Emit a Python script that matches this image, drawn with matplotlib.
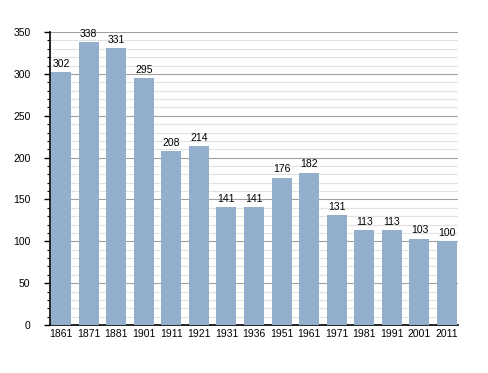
import matplotlib.pyplot as plt
import numpy as np

years = ["1861", "1871", "1881", "1901", "1911", "1921", "1931", "1936",
         "1951", "1961", "1971", "1981", "1991", "2001", "2011"]
population = [302, 338, 331, 295, 208, 214, 141, 141, 176, 182, 131, 113, 113, 103, 100]

plt.rcParams["font.family"] = ["Liberation Sans", "DejaVu Sans"]

fig = plt.figure(figsize=(4.88, 3.73), dpi=100)
ax = fig.add_axes([0.1025, 0.1287, 0.836, 0.7853])

x = np.arange(len(years))
ax.bar(x, population, width=0.73, color="#94afcc", zorder=3)

for xi, v in zip(x, population):
    ax.text(xi, v + 4, str(v), ha="center", va="bottom", fontsize=7.5, zorder=4)

ax.set_xlim(-0.4, len(years) - 0.6)
ax.set_ylim(0, 350)
ax.set_xticks(x)
ax.set_xticklabels(years, fontsize=7.5)
ax.set_yticks(np.arange(0, 351, 50))
ax.set_yticks(np.arange(0, 351, 10), minor=True)
ax.tick_params(axis="y", labelsize=7.5, length=4, width=1, pad=10)
ax.tick_params(axis="y", which="minor", length=2, width=0.8)
ax.tick_params(axis="x", length=0, pad=3)

# grid: darker every 50, light every 10
ax.grid(axis="y", which="major", color="#a0a0a0", linewidth=0.8, zorder=0)
ax.grid(axis="y", which="minor", color="#e2e2e2", linewidth=0.8, zorder=0)

for side in ["top", "right"]:
    ax.spines[side].set_visible(False)
ax.spines["left"].set_linewidth(1.2)
ax.spines["bottom"].set_linewidth(1.2)

plt.savefig("out.png", dpi=100)
